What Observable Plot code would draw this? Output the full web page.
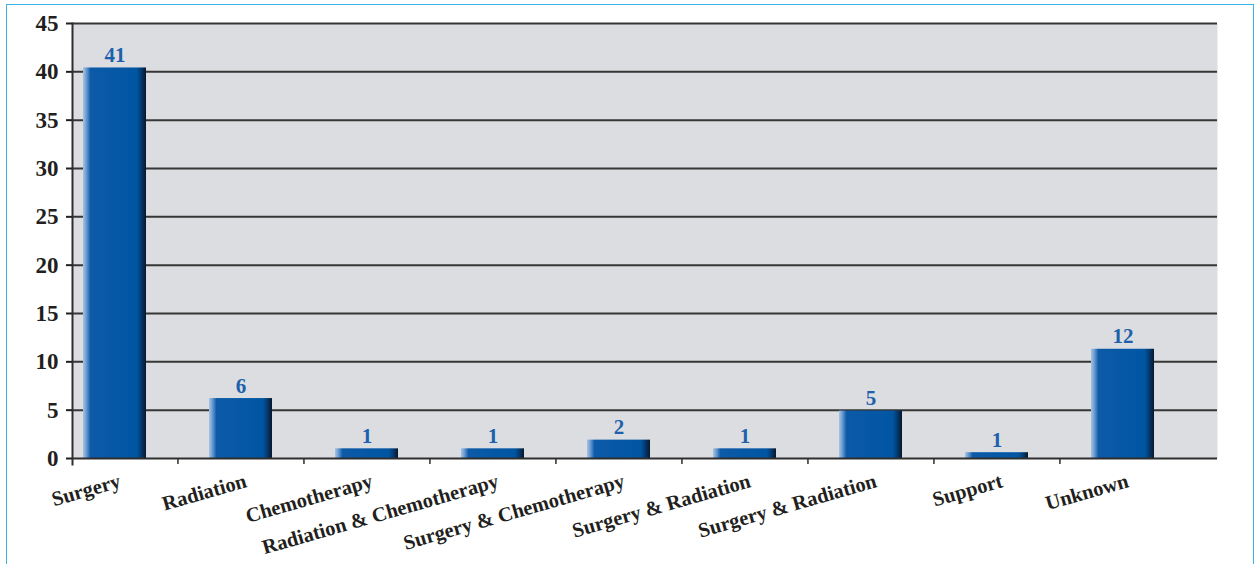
<!DOCTYPE html>
<html><head><meta charset="utf-8">
<script src="https://cdn.jsdelivr.net/npm/d3@7"></script>
<script src="https://cdn.jsdelivr.net/npm/@observablehq/plot@0.6"></script>
<style>
html,body{margin:0;padding:0;background:#fff;overflow:hidden}
#wrap{position:relative;width:1257px;height:564px;overflow:hidden}
#border{position:absolute;left:6px;top:4px;width:1248px;height:700px;border:1.5px solid #3ab2e8;box-sizing:border-box;pointer-events:none}
svg{display:block}
</style></head><body>
<div id="wrap"><div id="border"></div></div>
<script>
// Categories (x-axis labels), in display order
const labels = ["Surgery", "Radiation", "Chemotherapy", "Radiation & Chemotherapy", "Surgery & Chemotherapy", "Surgery & Radiation", "Surgery & Radiation", "Support", "Unknown"];
// Printed value labels above bars
const counts = [41, 6, 1, 1, 2, 1, 5, 1, 12];
// Bar heights as drawn in the picture
const barHeights = [40.4, 6.2, 1.0, 1.0, 1.9, 1.0, 4.9, 0.6, 11.3];
// Y axis ticks
const yTicks = [0, 5, 10, 15, 20, 25, 30, 35, 40, 45];

const data = labels.map((label, i) => ({i, label, count: counts[i], h: barHeights[i]}));

const xRange = [51, 1186];
const step = (xRange[1] - xRange[0]) / labels.length;
const font = "'Liberation Serif', 'Times New Roman', serif";
const ink = "#231f20";

const svg = Plot.plot({
  width: 1257,
  height: 564,
  marginTop: 23,
  marginBottom: 106,
  marginLeft: 72,
  marginRight: 40,
  style: {fontFamily: font, background: "transparent", overflow: "visible"},
  x: {type: "band", domain: d3.range(labels.length), range: xRange, paddingInner: 0.5, paddingOuter: 0.25, align: 0.5, label: null},
  y: {domain: [0, 45], label: null},
  marks: [
    Plot.frame({fill: "#dcdde0", stroke: null}),
    Plot.ruleY(yTicks.filter(t => t > 0), {y: d => d, stroke: "#363636", strokeWidth: 2}),
    Plot.barY(data, {x: "i", y: "h", fill: "url(#barGrad)"}),
    Plot.tickY(data, {x: "i", y: "h", stroke: "url(#topGrad)", strokeWidth: 3, dy: 1.5}),
    Plot.ruleY([0], {stroke: "#2e2e2e", strokeWidth: 2}),
    Plot.frame({anchor: "left", stroke: "#2e2e2e", strokeWidth: 2, insetBottom: -6}),
    Plot.ruleX(data.slice(1), {x: "i", y1: 0, y2: 0, dx: -step / 2, insetBottom: -6, stroke: "#2e2e2e", strokeWidth: 1.5}),
    Plot.text(data, {x: "i", y: "h", text: d => String(d.count), dy: -6, lineAnchor: "bottom", fill: "#1d61ad", fontSize: 21, fontWeight: "bold"}),
    Plot.axisY({ticks: yTicks, tickSize: 6, tickPadding: 8, fontSize: 23, fontWeight: "bold", color: ink, strokeWidth: 2, label: null}),
    Plot.axisX({tickFormat: i => labels[i], tickSize: 0, tickPadding: 22, tickRotate: -16, fontSize: 20.5, fontWeight: "bold", color: ink, dx: 5, label: null})
  ]
});

svg.insertAdjacentHTML("afterbegin", `<defs>
  <linearGradient id="barGrad" x1="0" x2="1" y1="0" y2="0">
    <stop offset="0" stop-color="#a6c4e6"/>
    <stop offset="0.05" stop-color="#6f9ed2"/>
    <stop offset="0.12" stop-color="#0c5aa8"/>
    <stop offset="0.85" stop-color="#0056a3"/>
    <stop offset="0.92" stop-color="#043c74"/>
    <stop offset="1" stop-color="#06172c"/>
  </linearGradient>
  <linearGradient id="topGrad" x1="0" x2="1" y1="0" y2="0">
    <stop offset="0" stop-color="#6f9ed2"/>
    <stop offset="0.12" stop-color="#0b3563"/>
    <stop offset="0.9" stop-color="#0a2c54"/>
    <stop offset="1" stop-color="#06172c"/>
  </linearGradient>
</defs>`);

document.getElementById("wrap").prepend(svg);
</script>
</body></html>
